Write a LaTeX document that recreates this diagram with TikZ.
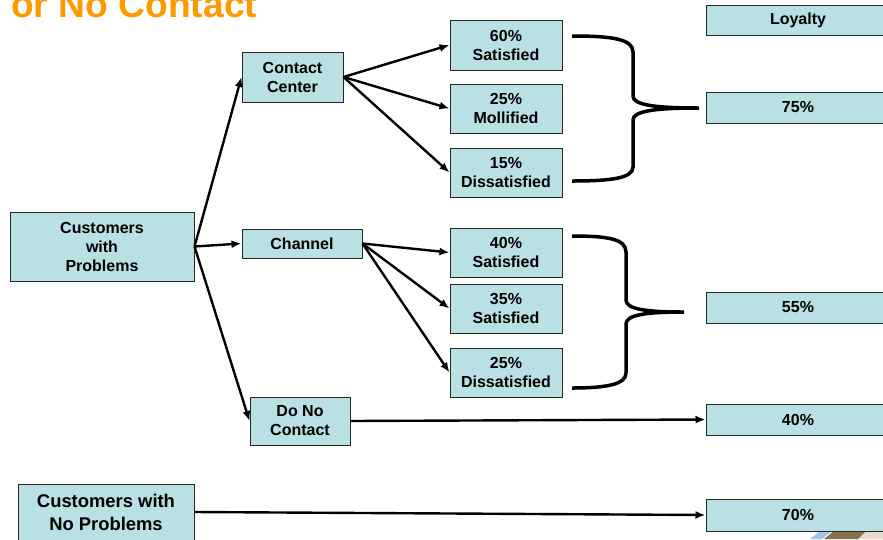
\documentclass[tikz,border=0pt]{standalone}
\usepackage{fontspec}
\setmainfont{Liberation Sans}
\usetikzlibrary{arrows.meta}
\definecolor{boxfill}{RGB}{185,224,227}
\definecolor{titleorange}{RGB}{255,153,0}
\definecolor{logoblue}{RGB}{165,195,230}
\definecolor{logobrown}{RGB}{135,115,75}
\definecolor{logobeige}{RGB}{228,222,200}

\begin{document}
\begin{tikzpicture}[x=1pt,y=-1pt,
  box/.style={draw=black!85, fill=boxfill, line width=1pt, inner sep=0pt,
    align=center, font=\bfseries\fontsize{16}{19}\selectfont},
  bigbox/.style={box, font=\bfseries\fontsize{18.4}{23}\selectfont},
  flow/.style={line width=2.4pt, -{Latex[length=10pt,width=8pt]}},
  bracket/.style={line width=3.5pt}]

\useasboundingbox (0,0) rectangle (883,539);

% heading (continues from the previous line, cut by the page)
\node[anchor=base west, inner sep=0pt, text=titleorange,
  font=\bfseries\fontsize{37.2}{42}\selectfont] (title) at (11,17) {or No Contact};

% logo fragment in the lower right corner
\fill[logobeige] (858,539) -- (866,531) -- (883,531) -- (883,539) -- cycle;
\fill[logoblue] (810,539) -- (820,531) -- (832,531) -- (822,539) -- cycle;
\fill[logobrown] (824,539) -- (834,531) -- (866,531) -- (858,539) -- cycle;

% left column
\node[box, minimum width=184, minimum height=69] (cwp) at (102,246.5)
  {Customers\\with\\Problems};
\node[bigbox, minimum width=176, minimum height=56] (cnp) at (106,512)
  {Customers with\\No Problems};

% contact routes
\node[box, minimum width=101, minimum height=50] (cc) at (292.5,77) {Contact\\Center};
\node[box, minimum width=120, minimum height=29] (ch) at (302,243.5) {Channel};
\node[box, minimum width=100, minimum height=48] (dnc) at (300,421) {Do No\\Contact};

% outcomes
\node[box, minimum width=112, minimum height=50] (s60) at (506,45) {60\%\\Satisfied};
\node[box, minimum width=112, minimum height=49] (m25) at (506,108.5) {25\%\\Mollified};
\node[box, minimum width=112, minimum height=49] (d15) at (506,172.5) {15\%\\Dissatisfied};
\node[box, minimum width=112, minimum height=49] (s40) at (506,252.5) {40\%\\Satisfied};
\node[box, minimum width=112, minimum height=49] (s35) at (506,308.5) {35\%\\Satisfied};
\node[box, minimum width=112, minimum height=49] (d25) at (506,372.5) {25\%\\Dissatisfied};

% loyalty column
\node[box, minimum width=184, minimum height=30] (loy) at (798,20) {Loyalty};
\node[box, minimum width=184, minimum height=31] (l75) at (798,107.5) {75\%};
\node[box, minimum width=184, minimum height=31] (l55) at (798,307.5) {55\%};
\node[box, minimum width=184, minimum height=31] (l40) at (798,419.5) {40\%};
\node[box, minimum width=184, minimum height=32] (l70) at (798,515) {70\%};

% connectors
\draw[flow] (cwp.east) -- (cc.west);
\draw[flow] (cwp.east) -- (ch.west);
\draw[flow] (cwp.east) -- (dnc.west);

\draw[flow] (cc.east) -- (s60.west);
\draw[flow] (cc.east) -- (m25.west);
\draw[flow] (cc.east) -- (d15.west);

\draw[flow] (ch.east) -- (s40.west);
\draw[flow] (ch.east) -- (s35.west);
\draw[flow] (ch.east) -- (d25.west);

\draw[flow] (dnc.east) -- (l40.west);
\draw[flow] (cnp.east) -- (l70.west);

% brackets gathering the outcomes
\draw[bracket] (572,36) .. controls (612,36) and (633,39) .. (633,52)
  -- (633,96) .. controls (633,105) and (655,108) .. (699,108)
  .. controls (655,108) and (633,111) .. (633,120)
  -- (633,167) .. controls (633,178) and (612,181) .. (572,181);

\draw[bracket] (572,236) .. controls (608,236) and (626,239) .. (626,252)
  -- (626,300) .. controls (626,309) and (645,312) .. (684,312)
  .. controls (645,312) and (626,315) .. (626,324)
  -- (626,373) .. controls (626,384) and (608,388) .. (572,388);

\end{tikzpicture}
\end{document}
